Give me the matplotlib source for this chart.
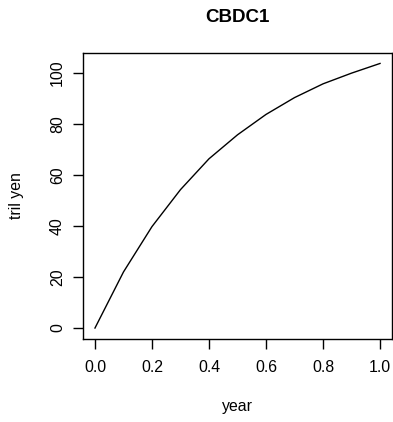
import matplotlib.pyplot as plt

plt.rcParams['font.family'] = ['Liberation Sans', 'DejaVu Sans']

# values
year = [0.0, 0.1, 0.2, 0.3, 0.4, 0.5, 0.6, 0.7, 0.8, 0.9, 1.0]
tril_yen = [0.0, 22.0, 39.8, 54.3, 66.4, 75.8, 83.8, 90.4, 95.8, 100.0, 103.8]
xticks = [0.0, 0.2, 0.4, 0.6, 0.8, 1.0]
yticks = [0, 20, 40, 60, 80, 100]

W, H = 393, 422
fig = plt.figure(figsize=(W / 100, H / 100), dpi=100)
ax = fig.add_axes([83 / W, 1 - 339 / H, (392 - 83) / W, (339 - 53) / H])

ax.plot(year, tril_yen, color='black', linewidth=1.0)

ax.set_xlim(-0.042, 1.042)
ax.set_ylim(-4.3, 107.9)
ax.set_xticks(xticks)
ax.set_xticklabels(['%.1f' % v for v in xticks])
ax.set_yticks(yticks)
ax.set_yticklabels([str(v) for v in yticks], rotation=90, va='center')

ax.tick_params(direction='out', length=7, width=1, labelsize=11.4, pad=8)
ax.tick_params(axis='y', pad=6)
for s in ax.spines.values():
    s.set_linewidth(1)

fig.text(0.5 * (83 + 392) / W, 1 - 17 / H, 'CBDC1', ha='center', va='center',
         fontsize=13.5, fontweight='bold')
fig.text(0.5 * (83 + 392) / W, 1 - 407 / H, 'year', ha='center', va='center', fontsize=11.4)
fig.text(17 / W, 1 - 196 / H, 'tril yen', ha='center', va='center', rotation=90, fontsize=11.4)

fig.savefig('out.png', dpi=100)
